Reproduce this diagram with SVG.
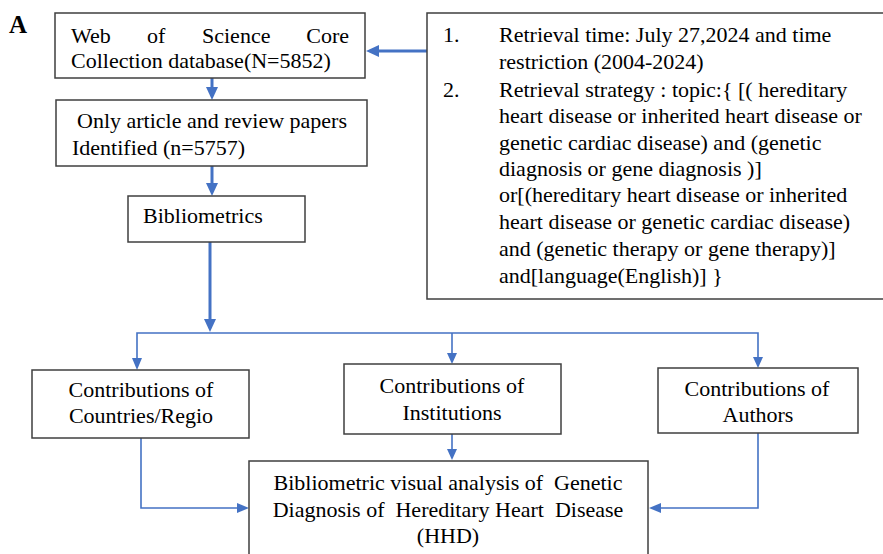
<svg xmlns="http://www.w3.org/2000/svg" width="883" height="554" viewBox="0 0 883 554">
<style>
.box{fill:#fff;stroke:#3f3f3f;stroke-width:1.5}
text{font-family:'Liberation Serif','Times New Roman',Times,serif;font-size:22px;fill:#000;white-space:pre}
.c{text-anchor:middle}
.thick{stroke:#4472C4;stroke-width:3;fill:none}
.thin{stroke:#4472C4;stroke-width:1.6;fill:none}
.head{fill:#4472C4}
</style>
<rect width="883" height="554" fill="#fff"/>
<text x="9" y="33" style="font-size:25px;font-weight:bold">A</text>

<g id="connectors">
<path class="thick" d="M212 78V88"/><polygon class="head" points="206,87 218,87 212,100"/>
<path class="thick" d="M212 166V184"/><polygon class="head" points="206,183 218,183 212,196"/>
<path class="thick" d="M210 242V320"/><polygon class="head" points="204,319 216,319 210,332"/>
<path class="thick" d="M427 51H378"/><polygon class="head" points="379,45 379,57 366,51"/>
<path class="thin" d="M137 360V333H758V357"/>
<path class="thin" d="M452 333V354"/>
<polygon class="head" points="132,358 142,358 137,370"/>
<polygon class="head" points="447,353 457,353 452,364"/>
<polygon class="head" points="753,357 763,357 758,368"/>
<path class="thin" d="M452 434V450"/><polygon class="head" points="447,449 457,449 452,460"/>
<path class="thin" d="M141 438V508H238"/><polygon class="head" points="237,503 237,513 249,508"/>
<path class="thin" d="M758 433V508H660"/><polygon class="head" points="661,503 661,513 649,508"/>
</g>

<g id="wos">
<rect class="box" x="55" y="13" width="310" height="65"/>
<text x="71" y="43">Web</text>
<text x="147" y="43">of</text>
<text x="202" y="43">Science</text>
<text x="349" y="43" text-anchor="end">Core</text>
<text x="71" y="68">Collection database(N=5852)</text>
</g>

<g id="articles">
<rect class="box" x="56" y="100" width="311" height="66"/>
<text x="77" y="128">Only article and review papers</text>
<text x="72" y="155">Identified (n=5757)</text>
</g>

<g id="bibliometrics">
<rect class="box" x="128" y="196" width="177" height="46"/>
<text x="143" y="223">Bibliometrics</text>
</g>

<g id="retrieval">
<rect class="box" x="427" y="13" width="470" height="286"/>
<text x="443" y="42">1.</text>
<text x="499" y="42">Retrieval time: July 27,2024 and time</text>
<text x="499" y="69">restriction (2004-2024)</text>
<text x="443" y="97">2.</text>
<text x="499" y="97">Retrieval strategy : topic:{ [( hereditary</text>
<text x="499" y="123">heart disease or inherited heart disease or</text>
<text x="499" y="150">genetic cardiac disease) and (genetic</text>
<text x="499" y="176">diagnosis or gene diagnosis )]</text>
<text x="499" y="202">or[(hereditary heart disease or inherited</text>
<text x="499" y="229">heart disease or genetic cardiac disease)</text>
<text x="499" y="256">and (genetic therapy or gene therapy)]</text>
<text x="499" y="283">and[language(English)] }</text>
</g>

<g id="countries">
<rect class="box" x="32" y="370" width="217" height="68"/>
<text class="c" x="141" y="397">Contributions of</text>
<text class="c" x="141" y="423">Countries/Regio</text>
</g>

<g id="institutions">
<rect class="box" x="344" y="364" width="217" height="70"/>
<text class="c" x="452" y="393">Contributions of</text>
<text class="c" x="452" y="420">Institutions</text>
</g>

<g id="authors">
<rect class="box" x="658" y="368" width="200" height="65"/>
<text class="c" x="757" y="396">Contributions of</text>
<text class="c" x="758" y="422">Authors</text>
</g>

<g id="analysis">
<rect class="box" x="249" y="461" width="399" height="100"/>
<text class="c" x="448" y="490">Bibliometric visual analysis of  Genetic</text>
<text class="c" x="448" y="517">Diagnosis of  Hereditary Heart  Disease</text>
<text class="c" x="448" y="543">(HHD)</text>
</g>
</svg>
